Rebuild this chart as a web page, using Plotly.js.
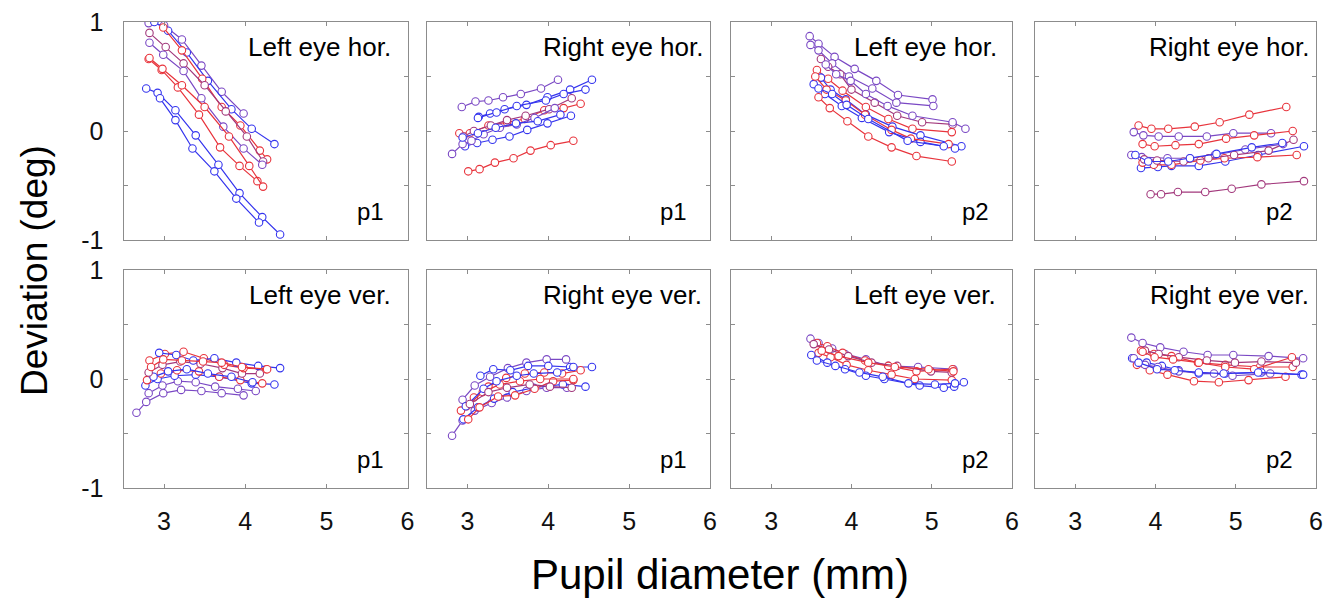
<!DOCTYPE html>
<html>
<head>
<meta charset="utf-8">
<script src="https://cdn.plot.ly/plotly-3.0.1.min.js"></script>
<style>html,body{margin:0;padding:0;background:#fff;}#chart{width:1334px;height:598px;}</style>
</head>
<body>
<div id="chart"></div>
<script>
// Series colours (subject shades from blue to red)
const B = '#3535ee', P = '#7a48c4', M = '#a2387c', R = '#e8343c';

// Panel titles and period labels
const panelTitles = ['Left eye hor.', 'Right eye hor.', 'Left eye hor.', 'Right eye hor.',
                     'Left eye ver.', 'Right eye ver.', 'Left eye ver.', 'Right eye ver.'];
const periodLabels = ['p1', 'p1', 'p2', 'p2', 'p1', 'p1', 'p2', 'p2'];
const xTickVals = [3, 4, 5, 6];
const xTickText = ['3', '4', '5', '6'];
const yTickVals = [-1, -0.5, 0, 0.5, 1];
const yTickText = ['-1', '', '0', '', '1'];

// Panel 1: Left eye hor., p1
const leftHorP1Colors = [P, B, R, M, P, R, R, B, B];
const leftHorP1X = [
  [2.81,3.00,3.22,3.46,3.71,3.98],
  [2.88,3.05,3.28,3.54,3.83,4.08,4.36],
  [2.99,3.22,3.47,3.71,3.94,4.18,4.27],
  [2.82,3.02,3.24,3.50,3.76,4.02,4.22],
  [2.82,2.99,3.24,3.46,3.73,3.98,4.21],
  [2.81,2.97,3.17,3.43,3.69,3.93,4.15],
  [2.82,2.98,3.22,3.50,3.80,4.05,4.22],
  [2.78,2.92,3.14,3.39,3.67,3.93,4.21,4.43],
  [2.95,3.14,3.35,3.62,3.89,4.17]
];
const leftHorP1Y = [
  [0.99,0.97,0.84,0.60,0.36,0.16],
  [1.00,0.92,0.72,0.46,0.20,0.02,-0.12],
  [0.95,0.74,0.48,0.22,0.05,-0.18,-0.26],
  [0.90,0.77,0.62,0.42,0.18,-0.05,-0.28],
  [0.81,0.70,0.55,0.30,0.04,-0.16,-0.31],
  [0.66,0.56,0.40,0.15,-0.15,-0.32,-0.46],
  [0.67,0.57,0.42,0.22,-0.05,-0.32,-0.51],
  [0.39,0.35,0.19,-0.04,-0.31,-0.57,-0.79,-0.95],
  [0.30,0.10,-0.16,-0.37,-0.62,-0.84]
];

// Panel 2: Right eye hor., p1
const rightHorP1Colors = [P, R, B, B, R, M, B, P, B];
const rightHorP1X = [
  [2.93,3.10,3.26,3.44,3.66,3.91,4.12],
  [3.01,3.15,3.34,3.57,3.78,4.03,4.31],
  [3.14,3.28,3.46,3.73,3.99,4.27,4.54],
  [3.13,3.36,3.61,3.97,4.19,4.46],
  [2.90,3.03,3.26,3.49,3.71,3.95,4.19,4.40],
  [2.95,3.08,3.29,3.49,3.72,4.01,4.29],
  [2.97,3.12,3.31,3.52,3.74,3.99,4.28],
  [2.81,2.94,3.05,3.20,3.40,3.61,3.83,4.08],
  [2.94,3.13,3.35,3.60,3.87,4.15]
];
const rightHorP1Y = [
  [0.22,0.27,0.28,0.31,0.34,0.39,0.47],
  [-0.37,-0.35,-0.29,-0.25,-0.18,-0.13,-0.09],
  [0.13,0.16,0.20,0.24,0.31,0.38,0.47],
  [0.12,0.17,0.23,0.28,0.34,0.38],
  [-0.02,-0.02,0.05,0.08,0.11,0.19,0.21,0.25],
  [-0.05,0.00,0.05,0.10,0.14,0.20,0.30],
  [-0.14,-0.11,-0.08,-0.05,0.01,0.07,0.14],
  [-0.21,-0.12,-0.09,-0.03,0.03,0.06,0.12,0.21],
  [-0.06,-0.02,0.03,0.07,0.09,0.15]
];

// Panel 3: Left eye hor., p2
const leftHorP2Colors = [P, P, M, P, R, B, B, R, R, B];
const leftHorP2X = [
  [3.48,3.59,3.79,4.04,4.31,4.58,5.01],
  [3.49,3.59,3.76,3.97,4.26,4.56,5.02],
  [3.62,3.71,3.86,4.00,4.29,4.57,4.88,5.26],
  [3.68,3.81,3.99,4.18,4.45,4.76,5.26,5.42],
  [3.57,3.71,3.89,4.18,4.46,4.76,5.25],
  [3.62,3.74,3.93,4.18,4.51,4.86,5.37],
  [3.53,3.67,3.88,4.13,4.47,4.86,5.29],
  [3.55,3.69,3.93,4.17,4.50,4.74,5.21],
  [3.59,3.73,3.95,4.21,4.50,4.81,5.25],
  [3.59,3.76,3.94,4.21,4.70,5.15]
];
const leftHorP2Y = [
  [0.87,0.80,0.68,0.57,0.46,0.33,0.29],
  [0.79,0.74,0.62,0.50,0.39,0.26,0.23],
  [0.66,0.59,0.52,0.38,0.26,0.14,0.08,0.06],
  [0.61,0.52,0.46,0.34,0.23,0.14,0.08,0.02],
  [0.56,0.48,0.37,0.22,0.11,0.02,-0.01],
  [0.49,0.38,0.29,0.15,0.04,-0.04,-0.14],
  [0.43,0.34,0.23,0.12,-0.01,-0.10,-0.16],
  [0.50,0.38,0.28,0.15,0.01,-0.07,-0.12],
  [0.31,0.21,0.09,-0.05,-0.15,-0.23,-0.28],
  [0.39,0.34,0.24,0.11,-0.09,-0.14]
];

// Panel 4: Right eye hor., p2
const rightHorP2Colors = [R, P, R, M, B, P, R, M, B];
const rightHorP2X = [
  [3.79,3.95,4.16,4.49,4.80,5.17,5.63],
  [3.73,3.85,4.04,4.29,4.64,4.97,5.44],
  [3.84,3.99,4.25,4.54,4.88,5.23,5.71],
  [3.94,4.07,4.28,4.62,4.95,5.32,5.85],
  [3.82,4.03,4.20,4.54,4.87,5.28,5.85],
  [3.70,3.83,4.15,4.43,4.74,5.12,5.59],
  [3.84,3.98,4.20,4.56,4.86,5.27,5.76],
  [3.86,4.02,4.35,4.66,4.98,5.41,5.72],
  [3.75,3.91,4.16,4.43,4.76,5.20,5.58]
];
const rightHorP2Y = [
  [0.05,0.02,0.02,0.04,0.08,0.15,0.22],
  [-0.01,-0.04,-0.05,-0.05,-0.05,-0.02,-0.02],
  [-0.12,-0.14,-0.13,-0.12,-0.07,-0.04,0.00],
  [-0.58,-0.58,-0.56,-0.56,-0.53,-0.49,-0.46],
  [-0.34,-0.33,-0.32,-0.32,-0.28,-0.22,-0.14],
  [-0.22,-0.24,-0.25,-0.25,-0.22,-0.17,-0.12],
  [-0.29,-0.31,-0.31,-0.27,-0.25,-0.24,-0.22],
  [-0.26,-0.27,-0.28,-0.25,-0.22,-0.18,-0.08],
  [-0.22,-0.28,-0.28,-0.25,-0.21,-0.15,-0.11]
];

// Panel 5: Left eye ver., p1
const leftVerP1Colors = [P, P, B, R, B, M, R, B, R];
const leftVerP1X = [
  [2.66,2.78,2.99,3.21,3.46,3.71,3.98],
  [2.81,2.98,3.17,3.39,3.63,3.91,4.13],
  [2.77,2.92,3.13,3.39,3.68,4.08,4.36],
  [2.79,2.96,3.16,3.43,3.68,3.94,4.21],
  [2.87,3.05,3.28,3.54,3.83,4.09],
  [2.81,2.98,3.20,3.45,3.72,3.96,4.18],
  [2.82,3.01,3.24,3.49,3.74,3.98,4.26],
  [2.94,3.15,3.36,3.62,3.89,4.16,4.43],
  [2.84,2.99,3.22,3.48,3.71,3.96,4.27]
];
const leftVerP1Y = [
  [-0.31,-0.21,-0.13,-0.10,-0.11,-0.13,-0.15],
  [-0.13,-0.06,-0.02,-0.03,-0.07,-0.09,-0.11],
  [-0.06,0.00,0.03,0.04,0.02,-0.04,-0.05],
  [-0.01,0.05,0.08,0.07,0.02,-0.01,-0.04],
  [0.02,0.07,0.09,0.05,0.02,-0.03],
  [0.06,0.13,0.16,0.14,0.10,0.05,0.05],
  [0.17,0.23,0.25,0.19,0.13,0.10,0.09],
  [0.24,0.22,0.17,0.19,0.15,0.12,0.10],
  [0.11,0.18,0.17,0.16,0.15,0.11,0.09]
];

// Panel 6: Right eye ver., p1
const rightVerP1Colors = [P, B, R, P, B, R, R, B, M];
const rightVerP1X = [
  [2.81,2.94,3.09,3.30,3.49,3.73,3.98,4.23],
  [2.95,3.13,3.33,3.56,3.82,4.18,4.46],
  [3.01,3.15,3.38,3.59,3.83,4.06,4.31],
  [2.94,3.09,3.28,3.50,3.73,3.98,4.22],
  [3.16,3.32,3.53,3.75,4.00,4.27,4.54],
  [2.92,3.08,3.26,3.48,3.71,3.95,4.17,4.40],
  [2.99,3.19,3.40,3.65,3.90,4.31],
  [2.98,3.20,3.36,3.61,3.82,4.11,4.31],
  [3.03,3.26,3.49,3.77,4.02,4.29]
];
const rightVerP1Y = [
  [-0.52,-0.38,-0.29,-0.22,-0.17,-0.11,-0.08,-0.08],
  [-0.37,-0.26,-0.18,-0.12,-0.08,-0.05,-0.07],
  [-0.37,-0.26,-0.16,-0.15,-0.09,-0.02,-0.01],
  [-0.19,-0.06,0.02,0.10,0.15,0.18,0.18],
  [0.03,0.09,0.08,0.12,0.12,0.11,0.11],
  [-0.29,-0.17,-0.07,0.01,0.05,0.06,0.05,0.08],
  [-0.25,-0.12,-0.05,-0.02,0.00,0.00],
  [-0.25,-0.09,-0.02,0.03,0.05,0.06,0.11],
  [-0.23,-0.12,-0.08,-0.05,-0.07,-0.08]
];

// Panel 7: Left eye ver., p2
const leftVerP2Colors = [P, R, R, B, B, M, R];
const leftVerP2X = [
  [3.49,3.59,3.76,3.92,4.18,4.46,4.83,5.27],
  [3.57,3.70,3.89,4.17,4.46,4.81,5.26],
  [3.59,3.74,3.94,4.21,4.50,4.79,5.25],
  [3.50,3.70,3.92,4.18,4.41,4.85,5.15,5.28,5.40],
  [3.57,3.80,4.10,4.39,4.71,5.04,5.29],
  [3.53,3.72,3.96,4.25,4.57,4.99,5.25],
  [3.63,3.84,4.21,4.54,4.96,5.27]
];
const leftVerP2Y = [
  [0.37,0.33,0.28,0.23,0.18,0.12,0.11,0.09],
  [0.33,0.30,0.24,0.17,0.12,0.07,0.09],
  [0.24,0.20,0.13,0.08,0.04,0.00,-0.01],
  [0.22,0.15,0.09,0.03,0.00,-0.06,-0.08,-0.07,-0.03],
  [0.17,0.12,0.06,0.02,-0.04,-0.05,-0.04],
  [0.32,0.27,0.21,0.15,0.12,0.07,0.06],
  [0.26,0.21,0.15,0.11,0.09,0.07]
];

// Panel 8: Right eye ver., p2
const rightVerP2Colors = [P, R, R, B, P, M, R, B];
const rightVerP2X = [
  [3.70,3.84,4.06,4.35,4.65,4.97,5.41,5.84],
  [3.82,3.98,4.20,4.53,4.87,5.30,5.71],
  [3.77,3.93,4.15,4.48,4.79,5.16,5.62],
  [3.71,3.89,4.08,4.29,4.54,4.87,5.32,5.82],
  [3.73,3.87,4.03,4.29,4.73,4.96,5.43],
  [3.87,4.04,4.29,4.64,4.99,5.32,5.75],
  [3.84,3.99,4.22,4.54,4.87,5.23,5.70],
  [3.79,4.02,4.24,4.54,4.85,5.28,5.84]
];
const rightVerP2Y = [
  [0.38,0.33,0.29,0.25,0.22,0.22,0.21,0.19],
  [0.26,0.23,0.21,0.15,0.13,0.11,0.11],
  [0.13,0.08,0.04,-0.02,-0.03,-0.01,0.02],
  [0.19,0.15,0.12,0.08,0.05,0.05,0.06,0.04],
  [0.19,0.13,0.11,0.07,0.05,0.03,0.05],
  [0.26,0.23,0.20,0.17,0.15,0.16,0.15],
  [0.25,0.20,0.18,0.15,0.11,0.09,0.20],
  [0.15,0.09,0.08,0.06,0.05,0.06,0.04]
];

const panels = [
  [leftHorP1X, leftHorP1Y, leftHorP1Colors],
  [rightHorP1X, rightHorP1Y, rightHorP1Colors],
  [leftHorP2X, leftHorP2Y, leftHorP2Colors],
  [rightHorP2X, rightHorP2Y, rightHorP2Colors],
  [leftVerP1X, leftVerP1Y, leftVerP1Colors],
  [rightVerP1X, rightVerP1Y, rightVerP1Colors],
  [leftVerP2X, leftVerP2Y, leftVerP2Colors],
  [rightVerP2X, rightVerP2Y, rightVerP2Colors]
];

const W = 1334, H = 598;
const colPx = [[123.5, 407.5], [427, 710], [731, 1012], [1035, 1316]];
const rowPx = [[22, 240], [270, 488]];
const FONT = 'Liberation Sans, Arial, Helvetica, sans-serif';

const traces = [];
const layout = {
  width: W, height: H,
  margin: {l: 0, r: 0, t: 0, b: 0},
  paper_bgcolor: '#fff', plot_bgcolor: '#fff',
  showlegend: false,
  font: {family: FONT, color: '#111'},
  annotations: []
};

panels.forEach((pd, i) => {
  const col = i % 4, row = Math.floor(i / 4);
  const n = i + 1;
  const xa = 'x' + (n === 1 ? '' : n), ya = 'y' + (n === 1 ? '' : n);
  const xKey = 'xaxis' + (n === 1 ? '' : n), yKey = 'yaxis' + (n === 1 ? '' : n);
  const [xs, ys, cs] = pd;
  xs.forEach((xv, k) => {
    traces.push({
      type: 'scatter', mode: 'lines+markers', x: xv, y: ys[k], xaxis: xa, yaxis: ya,
      line: {color: cs[k], width: 1.2},
      marker: {symbol: 'circle', size: 7.5, color: '#fff', line: {color: cs[k], width: 1.1}},
      hoverinfo: 'skip'
    });
  });
  layout[xKey] = {
    domain: [colPx[col][0] / W, colPx[col][1] / W],
    range: [2.5, 6], anchor: ya, fixedrange: true,
    showgrid: false, zeroline: false,
    showline: true, mirror: 'ticks', linecolor: '#8c8c8c', linewidth: 1,
    ticks: 'inside', ticklen: 4, tickcolor: '#8c8c8c', tickwidth: 1,
    tickmode: 'array', tickvals: xTickVals, ticktext: xTickText,
    showticklabels: row === 1, ticklabelstandoff: 11,
    tickfont: {family: FONT, size: 25, color: '#111'}
  };
  layout[yKey] = {
    domain: [1 - rowPx[row][1] / H, 1 - rowPx[row][0] / H],
    range: [-1, 1], anchor: xa, fixedrange: true,
    showgrid: false, zeroline: false,
    showline: true, mirror: 'ticks', linecolor: '#8c8c8c', linewidth: 1,
    ticks: 'inside', ticklen: 4, tickcolor: '#8c8c8c', tickwidth: 1,
    tickmode: 'array', tickvals: yTickVals, ticktext: yTickText,
    showticklabels: col === 0, ticklabelstandoff: 14,
    tickfont: {family: FONT, size: 25, color: '#111'}
  };
  layout.annotations.push({
    xref: xa, yref: ya, x: 4.92, y: 0.77, text: panelTitles[i], showarrow: false,
    xanchor: 'center', yanchor: 'middle', font: {family: FONT, size: 26, color: '#000'}
  });
  layout.annotations.push({
    xref: xa, yref: ya, x: 5.55, y: -0.74, text: periodLabels[i], showarrow: false,
    xanchor: 'center', yanchor: 'middle', font: {family: FONT, size: 24, color: '#000'}
  });
});

layout.annotations.push({
  xref: 'paper', yref: 'paper', x: 34 / W, y: 1 - 271 / H, text: 'Deviation (deg)',
  textangle: -90, showarrow: false, xanchor: 'center', yanchor: 'middle',
  font: {family: FONT, size: 37, color: '#000'}
});
layout.annotations.push({
  xref: 'paper', yref: 'paper', x: 720 / W, y: 1 - 574 / H, text: 'Pupil diameter (mm)',
  showarrow: false, xanchor: 'center', yanchor: 'middle',
  font: {family: FONT, size: 42, color: '#000'}
});

Plotly.newPlot('chart', traces, layout, {staticPlot: true, displayModeBar: false});
</script>
</body>
</html>
